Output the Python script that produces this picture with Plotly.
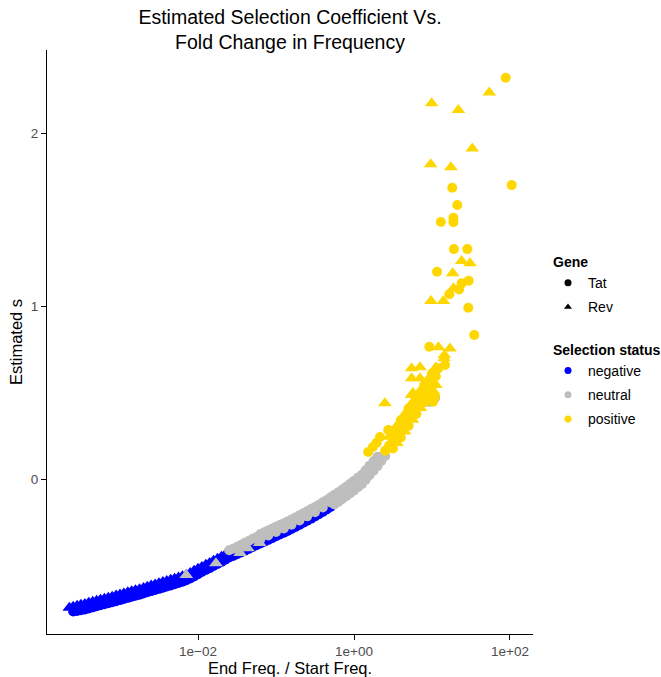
import plotly.graph_objects as go

# ---- values
# fold change = End Freq. / Start Freq. ; s = estimated selection coefficient

# negative / Tat (lower edge of the blue band)
neg_tat_fold = [2.51e-4, 2.82e-4, 3.16e-4, 3.55e-4, 3.98e-4, 4.47e-4, 5.01e-4, 5.62e-4, 6.31e-4, 7.08e-4, 7.94e-4, 8.91e-4,
                1.00e-3, 1.12e-3, 1.26e-3, 1.41e-3, 1.58e-3, 1.78e-3, 2.00e-3, 2.24e-3, 2.51e-3, 2.82e-3,
                3.16e-3, 3.55e-3, 3.98e-3, 4.47e-3, 5.01e-3, 5.62e-3, 6.31e-3, 7.08e-3, 7.94e-3, 8.91e-3,
                1.00e-2, 1.12e-2, 1.26e-2, 1.41e-2, 1.58e-2, 1.78e-2, 2.00e-2, 2.24e-2, 2.51e-2, 2.82e-2,
                3.16e-2, 3.55e-2, 3.98e-2, 4.47e-2, 5.01e-2, 5.62e-2, 6.31e-2, 7.08e-2, 7.94e-2, 8.91e-2,
                0.100, 0.112, 0.126, 0.141, 0.158, 0.178, 0.200, 0.224, 0.251, 0.282, 0.316, 0.355, 0.398, 0.447, 0.501]
neg_tat_s = [-0.766, -0.763, -0.759, -0.754, -0.748, -0.742, -0.736, -0.730, -0.724, -0.718, -0.712, -0.706,
             -0.700, -0.694, -0.687, -0.681, -0.675, -0.669, -0.662, -0.655, -0.648, -0.642,
             -0.635, -0.628, -0.621, -0.615, -0.608, -0.601, -0.594, -0.585, -0.575, -0.563,
             -0.551, -0.538, -0.526, -0.515, -0.503, -0.491, -0.479, -0.467, -0.454, -0.445,
             -0.435, -0.425, -0.414, -0.404, -0.393, -0.383, -0.373, -0.363, -0.352, -0.342,
             -0.331, -0.321, -0.311, -0.300, -0.289, -0.277, -0.265, -0.253, -0.241, -0.229, -0.217, -0.204, -0.190, -0.176, -0.161]

# negative / Rev (upper edge of the blue band)
neg_rev_fold = [2.24e-4, 2.51e-4, 2.82e-4, 3.16e-4, 3.55e-4, 3.98e-4, 4.47e-4, 5.01e-4, 5.62e-4, 6.31e-4, 7.08e-4, 7.94e-4, 8.91e-4,
                1.00e-3, 1.12e-3, 1.26e-3, 1.41e-3, 1.58e-3, 1.78e-3, 2.00e-3, 2.24e-3, 2.51e-3, 2.82e-3,
                3.16e-3, 3.55e-3, 3.98e-3, 4.47e-3, 5.01e-3, 5.62e-3, 6.31e-3, 7.08e-3, 7.94e-3, 8.91e-3,
                1.00e-2, 1.12e-2, 1.26e-2, 1.41e-2, 1.58e-2, 1.78e-2, 2.00e-2, 2.24e-2, 2.51e-2, 2.82e-2,
                3.16e-2, 3.55e-2, 3.98e-2, 4.47e-2, 5.01e-2, 5.62e-2, 6.31e-2]
neg_rev_s = [-0.744, -0.738, -0.733, -0.727, -0.722, -0.716, -0.710, -0.704, -0.698, -0.692, -0.686, -0.680, -0.674,
             -0.668, -0.662, -0.655, -0.649, -0.643, -0.637, -0.630, -0.623, -0.616, -0.610,
             -0.603, -0.596, -0.589, -0.583, -0.576, -0.569, -0.562, -0.553, -0.543, -0.531,
             -0.519, -0.508, -0.496, -0.485, -0.473, -0.461, -0.449, -0.437, -0.424, -0.415,
             -0.405, -0.395, -0.384, -0.374, -0.363, -0.353, -0.343]

# neutral / Tat
neu_tat_fold = [2.51e-2, 2.82e-2, 3.16e-2, 3.55e-2, 3.98e-2, 4.47e-2, 5.01e-2, 5.62e-2,
                6.31e-2, 7.08e-2, 7.94e-2, 8.91e-2,
                0.100, 0.112, 0.126, 0.141, 0.158, 0.178, 0.200, 0.224, 0.251, 0.282,
                0.316, 0.355, 0.398, 0.447, 0.501, 0.562, 0.631, 0.708, 0.794, 0.891,
                1.00, 1.12, 1.26, 1.41, 1.58, 1.78, 2.00,
                6.31e-2, 7.94e-2, 0.100, 0.126, 0.158, 0.200, 0.251, 0.316, 0.398, 0.501, 0.631, 0.794,
                1.00, 1.26, 1.58, 2.00,
                0.562, 0.708, 0.891, 1.12, 1.41, 1.78, 2.24,
                0.562, 0.631, 0.708, 0.794, 0.891, 1.00, 1.12, 1.26, 1.41, 1.58, 1.78, 2.00, 2.24, 2.51,
                9.3, 11.0]
neu_tat_s = [-0.412, -0.403, -0.393, -0.381, -0.369, -0.358, -0.346, -0.335,
             -0.318, -0.308, -0.297, -0.287,
             -0.276, -0.266, -0.256, -0.245, -0.234, -0.222, -0.210, -0.198, -0.186, -0.174,
             -0.162, -0.149, -0.135, -0.121, -0.106, -0.091, -0.077, -0.061, -0.045, -0.028,
             -0.011, 0.007, 0.025, 0.051, 0.077, 0.103, 0.129,
             -0.348, -0.327, -0.306, -0.286, -0.264, -0.240, -0.216, -0.192, -0.165, -0.136, -0.107, -0.075,
             -0.041, -0.005, 0.047, 0.099,
             -0.122, -0.091, -0.058, -0.023, 0.021, 0.073, 0.129,
             -0.147, -0.132, -0.116, -0.100, -0.083, -0.066, -0.048, -0.030, -0.004, 0.022, 0.048, 0.074, 0.104, 0.133,
             0.445, 0.470]

# neutral / Rev
neu_rev_fold = [7.08e-3, 1.70e-2, 3.47e-2, 4.37e-2, 6.17e-2, 7.08e-2, 8.91e-2, 0.112]
neu_rev_s = [-0.555, -0.487, -0.428, -0.400, -0.370, -0.313, -0.292, -0.271]

# positive / Tat
pos_tat_fold = [2.51, 2.82, 3.16, 3.55, 3.98, 4.47, 5.01, 5.62, 6.31, 7.08, 7.94, 8.91, 10.0, 11.2,
                3.16, 3.98, 5.01, 6.31, 7.94, 10.0,
                3.16, 3.98, 5.01, 6.31, 7.94, 10.0,
                1.52, 1.75, 1.95, 2.15, 2.75,
                88.1, 105.2, 18.2, 21.1, 13.0, 18.8, 18.8, 19.1, 28.4, 11.6, 29.5, 24.0, 22.2, 16.7,
                29.2, 34.8, 9.23, 14.7, 12.1, 10.9, 10.3]
pos_tat_s = [0.163, 0.194, 0.226, 0.258, 0.290, 0.324, 0.358, 0.392, 0.426, 0.460, 0.493, 0.527, 0.560, 0.594,
             0.276, 0.340, 0.408, 0.476, 0.543, 0.610,
             0.176, 0.240, 0.308, 0.376, 0.443, 0.510,
             0.156, 0.185, 0.210, 0.243, 0.283,
             2.320, 1.699, 1.684, 1.584, 1.486, 1.510, 1.484, 1.329, 1.329, 1.198, 1.146, 1.131, 1.096, 1.068,
             0.990, 0.832, 0.765, 0.659, 0.640, 0.486, 0.447]

# positive / Rev
pos_rev_fold = [2.82, 3.55, 4.47, 5.62, 7.08, 8.91, 11.2,
                3.55, 4.47, 5.62, 7.08, 8.91, 11.2,
                54.3, 9.91, 21.8, 32.9, 9.62, 17.5, 24.0, 30.7, 18.4, 18.8, 9.70, 14.0, 12.1, 17.0,
                14.4, 14.3, 5.48, 7.02, 5.48, 7.02, 9.91, 2.49, 5.70, 8.55, 10.3, 5.48, 7.38, 10.4]
pos_rev_s = [0.244, 0.308, 0.374, 0.442, 0.510, 0.577, 0.644,
             0.208, 0.274, 0.342, 0.410, 0.477, 0.544,
             2.235, 2.172, 2.133, 1.911, 1.819, 1.802, 1.260, 1.247, 1.189, 1.102, 1.029, 1.029, 0.761, 0.755,
             0.717, 0.698, 0.640, 0.646, 0.582, 0.582, 0.553, 0.438, 0.497, 0.514, 0.476, 0.486, 0.490, 0.562]

x_tick_vals = [1e-2, 1, 1e2]
x_tick_text = ["1e\u221202", "1e+00", "1e+02"]
y_tick_vals = [0, 1, 2]
y_tick_text = ["0", "1", "2"]

status_colors = {"negative": "#0000FF", "neutral": "#BEBEBE", "positive": "#FFD700"}
gene_symbols = {"Tat": "circle", "Rev": "triangle-up"}
gene_sizes = {"Tat": 10, "Rev": 12}

series = [
    ("negative", "Tat", neg_tat_fold, neg_tat_s),
    ("negative", "Rev", neg_rev_fold, neg_rev_s),
    ("neutral", "Tat", neu_tat_fold, neu_tat_s),
    ("neutral", "Rev", neu_rev_fold, neu_rev_s),
    ("positive", "Tat", pos_tat_fold, pos_tat_s),
    ("positive", "Rev", pos_rev_fold, pos_rev_s),
]

FONT = "Liberation Sans, Arial, Helvetica, sans-serif"
L_PX, R_PX, T_PX, B_PX = 47, 128, 50, 43
W, H = 661, 677

fig = go.Figure()
for status, gene, xs, ys in series:
    fig.add_trace(go.Scatter(
        x=xs, y=ys, mode="markers", showlegend=False,
        marker=dict(symbol=gene_symbols[gene], size=gene_sizes[gene],
                    color=status_colors[status], line=dict(width=0)),
        name=f"{gene} {status}"))

# legend entries (one group per entry so the spacing can be set)
legend_items = [
    ("Tat", "circle", "black", "<b>Gene</b>"),
    ("Rev", "triangle-up", "black", None),
    ("negative", "circle", status_colors["negative"], "<br><b>Selection status</b>"),
    ("neutral", "circle", status_colors["neutral"], None),
    ("positive", "circle", status_colors["positive"], None),
]
for i, (name, sym, col, gtitle) in enumerate(legend_items):
    kw = {}
    if gtitle:
        kw["legendgrouptitle"] = dict(text=gtitle)
    fig.add_trace(go.Scatter(
        x=[None], y=[None], mode="markers", name=name, legendgroup=f"g{i}",
        marker=dict(symbol=sym, size=7, color=col), **kw))

fig.update_layout(
    width=W, height=H,
    margin=dict(l=L_PX, r=R_PX, t=T_PX, b=B_PX, autoexpand=False),
    paper_bgcolor="white", plot_bgcolor="white",
    font=dict(family=FONT, color="black", size=14),
    title=dict(text="Estimated Selection Coefficient Vs.<br>Fold Change in Frequency",
               xref="paper", x=0.5, xanchor="center",
               yref="container", y=1 - 24 / H, yanchor="middle",
               font=dict(size=19.5, family=FONT, color="black")),
    legend=dict(x=(548 - L_PX) / (W - L_PX - R_PX), y=(H - B_PX - 246) / (H - T_PX - B_PX),
                xanchor="left", yanchor="top",
                font=dict(size=14, family=FONT), tracegroupgap=3,
                grouptitlefont=dict(size=14, family=FONT),
                bgcolor="rgba(0,0,0,0)"),
)
fig.update_xaxes(
    type="log", range=[-3.936, 2.295], automargin=False,
    tickvals=x_tick_vals, ticktext=x_tick_text,
    showgrid=False, zeroline=False, showline=True, linecolor="black", linewidth=1,
    ticks="outside", ticklen=5, tickcolor="black",
    tickfont=dict(size=13.5, color="#4D4D4D", family=FONT),
    title=dict(text="End Freq. / Start Freq.", font=dict(size=16.5, family=FONT), standoff=2),
)
fig.update_yaxes(
    range=[-0.896, 2.48], automargin=False,
    tickvals=y_tick_vals, ticktext=y_tick_text,
    showgrid=False, zeroline=False, showline=True, linecolor="black", linewidth=1,
    ticks="outside", ticklen=5, tickcolor="black",
    tickfont=dict(size=13.5, color="#4D4D4D", family=FONT),
    title=dict(text="Estimated s", font=dict(size=16.5, family=FONT), standoff=4),
)

fig.write_html("out.html")
